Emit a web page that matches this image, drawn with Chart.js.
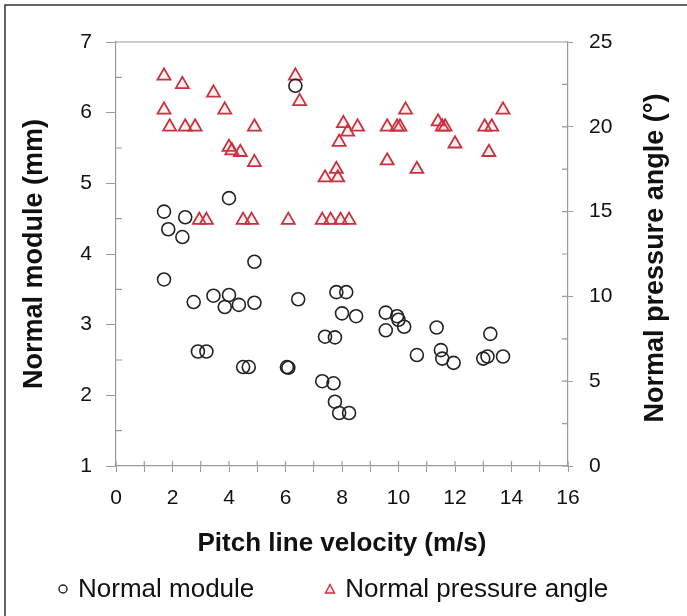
<!DOCTYPE html>
<html>
<head>
<meta charset="utf-8">
<script src="https://cdn.jsdelivr.net/npm/chart.js@4.4.1/dist/chart.umd.min.js"></script>
<style>
    html, body { margin: 0; padding: 0; background: #fff; overflow: hidden; }
    #wrap { position: relative; width: 687px; height: 616px; }
    #legend {
        position: absolute; left: 57px; top: 573px;
        display: flex; align-items: center;
        font-family: 'Liberation Sans', Arial, sans-serif; font-size: 26px; color: #111;
    }
    #legend .item { display: flex; align-items: center; margin-right: 70px; }
    #legend svg { margin-right: 9px; }
</style>
</head>
<body>
<div id="wrap">
    <canvas id="chart" width="687" height="616"></canvas>
    <div id="legend"></div>
</div>
<script>
// Normal module vs pitch line velocity (left axis)
const moduleVelocity = [1.7, 2.45, 1.85, 2.35, 4.0, 6.35, 4.9, 1.7, 2.75, 3.45, 4.0, 3.85, 4.35, 4.9, 6.45,
    2.9, 3.2, 4.5, 4.7, 6.05, 6.1, 7.4, 7.3, 7.8, 8.15, 8.0, 8.5, 7.75, 9.55, 9.95, 10.0, 10.2, 9.55,
    11.35, 11.5, 11.55, 11.95, 10.65, 13.25, 13.0, 13.15, 13.7, 7.7, 7.75, 7.9, 8.25];
const normalModule = [4.60, 4.52, 4.35, 4.24, 4.79, 6.38, 3.89, 3.64, 3.32, 3.41, 3.42, 3.25, 3.28, 3.31, 3.36,
    2.62, 2.62, 2.40, 2.40, 2.40, 2.39, 2.83, 2.20, 3.46, 3.46, 3.16, 3.12, 2.82, 3.17, 3.12, 3.07, 2.97, 2.92,
    2.96, 2.64, 2.52, 2.46, 2.57, 2.87, 2.52, 2.55, 2.55, 2.17, 1.91, 1.75, 1.75];

// Normal pressure angle vs pitch line velocity (right axis)
const angleVelocity = [1.7, 2.35, 3.45, 1.7, 3.85, 6.35, 6.5, 1.9, 2.45, 2.8, 4.9, 4.0, 4.1, 4.4, 4.9,
    7.4, 7.8, 7.85, 2.95, 3.2, 4.5, 4.8, 6.1, 7.3, 7.6, 7.95, 8.25, 10.25, 13.7, 8.05, 8.2, 8.55, 7.9,
    9.6, 9.95, 10.05, 11.4, 11.55, 11.65, 13.05, 13.3, 12.0, 13.2, 9.6, 10.65];
const pressureAngle = [23.0, 22.5, 22.0, 21.0, 21.0, 23.0, 21.5, 20.0, 20.0, 20.0, 20.0, 18.8, 18.6, 18.5, 17.9,
    17.0, 17.5, 17.0, 14.5, 14.5, 14.5, 14.5, 14.5, 14.5, 14.5, 14.5, 14.5, 21.0, 21.0, 20.2, 19.7, 20.0, 19.1,
    20.0, 20.0, 20.0, 20.3, 20.0, 20.0, 20.0, 20.0, 19.0, 18.5, 18.0, 17.5];

const xTickLabels = [0, 2, 4, 6, 8, 10, 12, 14, 16];
const fontFamily = "'Liberation Sans', Arial, sans-serif";
const axisGrey = '#9a9a9a';
const rightTitle = 'Normal pressure angle (°)';

// Extra tick marks (inward ticks, minor ticks), plot top line, figure frame, right title
const axisExtras = {
    id: 'axisExtras',
    afterDraw(chart) {
        const ctx = chart.ctx;
        const a = chart.chartArea;
        const sx = chart.scales.x, sy = chart.scales.y, sy2 = chart.scales.y2;
        ctx.save();
        ctx.strokeStyle = axisGrey;
        ctx.lineWidth = 1.2;
        ctx.beginPath();
        ctx.moveTo(a.left, a.top);
        ctx.lineTo(a.right, a.top);
        for (let v = sx.min; v <= sx.max; v += 1) {
            const p = sx.getPixelForValue(v);
            ctx.moveTo(p, a.bottom);
            ctx.lineTo(p, a.bottom - 5);
        }
        for (let v = sy.min + 0.5; v < sy.max; v += 1) {
            const p = sy.getPixelForValue(v);
            ctx.moveTo(a.left, p);
            ctx.lineTo(a.left + 6, p);
        }
        for (let v = sy2.min; v <= sy2.max; v += 2.5) {
            const p = sy2.getPixelForValue(v);
            ctx.moveTo(a.right, p);
            ctx.lineTo(a.right - 6, p);
        }
        ctx.stroke();

        // outer frame of the figure
        ctx.strokeStyle = '#333';
        ctx.lineWidth = 1.5;
        ctx.beginPath();
        ctx.moveTo(5, chart.height);
        ctx.lineTo(5, 5);
        ctx.lineTo(chart.width, 5);
        ctx.stroke();

        // right axis title reads bottom to top
        ctx.fillStyle = '#111';
        ctx.font = 'bold 27px ' + fontFamily;
        ctx.textAlign = 'center';
        ctx.textBaseline = 'middle';
        ctx.translate(656, (a.top + a.bottom) / 2 + 4);
        ctx.rotate(-Math.PI / 2);
        ctx.fillText(rightTitle, 0, 0);
        ctx.restore();
    }
};

const ctx = document.getElementById('chart').getContext('2d');
const chart = new Chart(ctx, {
    type: 'scatter',
    data: {
        datasets: [{
            label: 'Normal module',
            data: moduleVelocity.map((x, i) => ({ x: x, y: normalModule[i] })),
            yAxisID: 'y',
            pointStyle: 'circle',
            pointRadius: 6.5,
            borderColor: '#222',
            backgroundColor: 'rgba(0,0,0,0)',
            borderWidth: 1.6
        }, {
            label: 'Normal pressure angle',
            data: angleVelocity.map((x, i) => ({ x: x, y: pressureAngle[i] })),
            yAxisID: 'y2',
            pointStyle: 'triangle',
            pointRadius: 7.5,
            borderColor: '#c8323f',
            backgroundColor: 'rgba(230,120,130,0.12)',
            borderWidth: 1.8
        }]
    },
    options: {
        responsive: false,
        devicePixelRatio: 1,
        animation: false,
        layout: { padding: { left: 14, right: 0, top: 42, bottom: 54 } },
        plugins: {
            tooltip: { enabled: false },
            legend: { display: false }
        },
        scales: {
            x: {
                type: 'linear',
                min: 0,
                max: 16,
                afterFit: function(scale) { scale.height = 96; },
                border: { color: axisGrey, width: 1.2 },
                grid: { drawOnChartArea: false, tickLength: 6, tickColor: axisGrey },
                ticks: {
                    stepSize: 1,
                    autoSkip: false,
                    maxRotation: 0,
                    padding: 14,
                    color: '#111',
                    font: { family: fontFamily, size: 21 },
                    callback: function(value) {
                        return xTickLabels.includes(value) ? String(value) : '';
                    }
                },
                title: {
                    display: true,
                    text: 'Pitch line velocity (m/s)',
                    color: '#111',
                    padding: { top: 4, bottom: 3 },
                    font: { family: fontFamily, size: 26, weight: 'bold' }
                }
            },
            y: {
                type: 'linear',
                position: 'left',
                min: 1,
                max: 7,
                afterFit: function(scale) { scale.width = 102; },
                border: { color: axisGrey, width: 1.2 },
                grid: { drawOnChartArea: false, tickLength: 10, tickColor: axisGrey },
                ticks: {
                    stepSize: 1,
                    padding: 14,
                    color: '#111',
                    font: { family: fontFamily, size: 21 }
                },
                title: {
                    display: true,
                    text: 'Normal module (mm)',
                    color: '#111',
                    padding: 4,
                    font: { family: fontFamily, size: 27, weight: 'bold' }
                }
            },
            y2: {
                type: 'linear',
                position: 'right',
                min: 0,
                max: 25,
                afterFit: function(scale) { scale.width = 119; },
                border: { color: axisGrey, width: 1.2 },
                grid: { drawOnChartArea: false, tickLength: 5, tickColor: axisGrey },
                ticks: {
                    stepSize: 5,
                    padding: 16,
                    color: '#111',
                    font: { family: fontFamily, size: 21 }
                }
            }
        }
    },
    plugins: [axisExtras]
});

// HTML legend built from the datasets
const legendEl = document.getElementById('legend');
chart.data.datasets.forEach(ds => {
    const item = document.createElement('span');
    item.className = 'item';
    const marker = ds.pointStyle === 'triangle'
        ? '<svg width="12" height="12"><polygon points="6,1.5 10.5,10 1.5,10" fill="rgba(230,120,130,0.2)" stroke="' + ds.borderColor + '" stroke-width="1.4"/></svg>'
        : '<svg width="12" height="12"><circle cx="6" cy="6" r="4" fill="none" stroke="' + ds.borderColor + '" stroke-width="1.4"/></svg>';
    item.innerHTML = marker;
    item.appendChild(document.createTextNode(ds.label));
    legendEl.appendChild(item);
});
</script>
</body>
</html>
